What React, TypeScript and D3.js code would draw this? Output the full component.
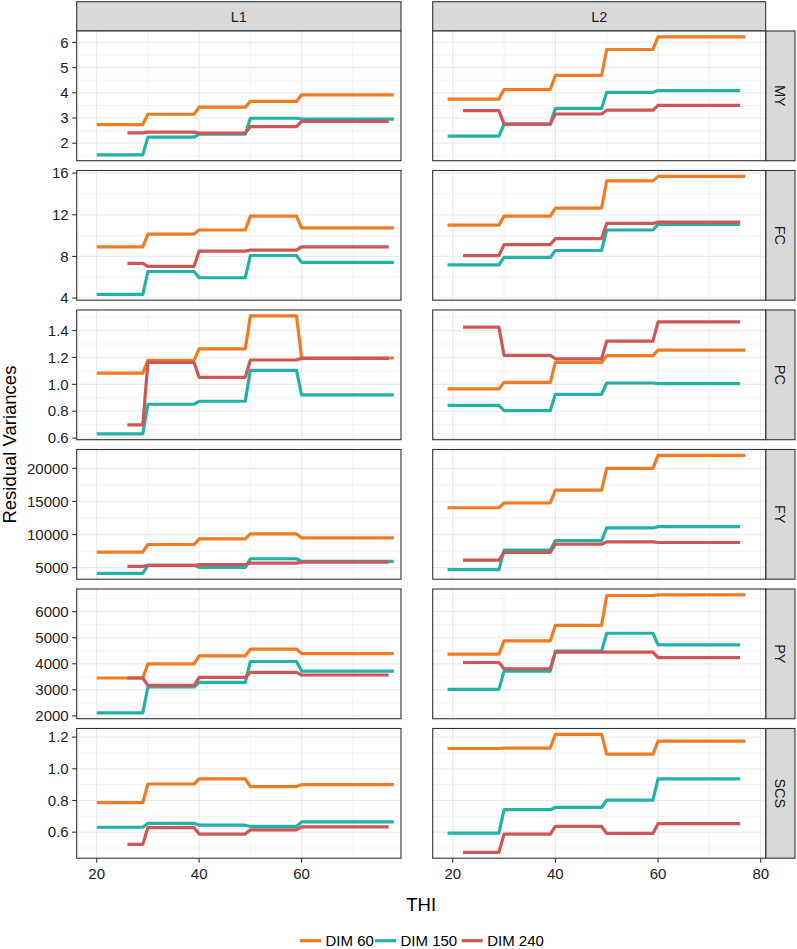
import React from "react";
import * as d3 from "d3";

// ---------- data ----------
const traits = ["MY", "FC", "PC", "FY", "PY", "SCS"];
const lactations = ["L1", "L2"];
const dimLabels = ["DIM 60", "DIM 150", "DIM 240"];
const dimColors = ["#EF7B23", "#22B2A8", "#CF5656"];

// THI class boundaries (each class is flat, transitions over one THI unit)
const classEdges = [29, 30, 39, 40, 49, 50, 59, 60];
const thiStartL1 = [20, 20, 26];
const thiEndL1 = [78, 78, 77];
const thiStartL2 = [19, 19, 22];
const thiEndL2 = [77, 76, 76];

// values per THI class (<30, 30-39, 40-49, 50-59, 60+), rows = DIM 60, 150, 240
const MY_L1 = [[2.74, 3.15, 3.43, 3.66, 3.92], [1.54, 2.24, 2.36, 2.99, 2.96], [2.41, 2.44, 2.40, 2.66, 2.87]];
const MY_L2 = [[3.75, 4.13, 4.69, 5.72, 6.22], [2.28, 2.76, 3.38, 4.02, 4.09], [3.29, 2.76, 3.16, 3.31, 3.5]];
const FC_L1 = [[8.92, 10.15, 10.54, 11.87, 10.75], [4.36, 6.55, 5.95, 8.09, 7.43], [7.34, 7.05, 8.51, 8.6, 8.92]];
const FC_L2 = [[11.01, 11.87, 12.65, 15.26, 15.69], [7.18, 7.9, 8.57, 10.54, 11.08], [8.07, 9.14, 9.71, 11.17, 11.3]];
const PC_L1 = [[1.084, 1.178, 1.264, 1.509, 1.196], [0.632, 0.852, 0.874, 1.104, 0.921], [0.699, 1.163, 1.052, 1.181, 1.193]];
const PC_L2 = [[0.966, 1.015, 1.163, 1.213, 1.255], [0.844, 0.805, 0.926, 1.01, 1.005], [1.425, 1.215, 1.19, 1.321, 1.464]];
const FY_L1 = [[7340, 8500, 9350, 10100, 9500], [4150, 5350, 5050, 6350, 5950], [5200, 5350, 5450, 5690, 5840]];
const FY_L2 = [[14050, 14760, 16710, 20000, 21950], [4700, 7640, 9100, 11000, 11200], [6140, 7300, 8545, 8900, 8800]];
const PY_L1 = [[3454, 4000, 4305, 4560, 4393], [2118, 3110, 3286, 4088, 3720], [3454, 3172, 3477, 3668, 3569]];
const PY_L2 = [[4370, 4878, 5477, 6622, 6645], [3019, 3720, 4485, 5172, 4725], [4050, 3809, 4447, 4447, 4240]];
const SCS_L1 = [[0.786, 0.904, 0.936, 0.888, 0.9], [0.631, 0.656, 0.644, 0.636, 0.665], [0.523, 0.629, 0.588, 0.615, 0.634]];
const SCS_L2 = [[1.128, 1.131, 1.217, 1.092, 1.175], [0.594, 0.742, 0.756, 0.802, 0.936], [0.473, 0.588, 0.636, 0.592, 0.654]];

const panelData = [
  [MY_L1, MY_L2],
  [FC_L1, FC_L2],
  [PC_L1, PC_L2],
  [FY_L1, FY_L2],
  [PY_L1, PY_L2],
  [SCS_L1, SCS_L2],
];

const yTicksMY = [2, 3, 4, 5, 6];
const yTicksFC = [4, 8, 12, 16];
const yTicksPC = [0.6, 0.8, 1.0, 1.2, 1.4];
const yTicksFY = [5000, 10000, 15000, 20000];
const yTicksPY = [2000, 3000, 4000, 5000, 6000];
const yTicksSCS = [0.6, 0.8, 1.0, 1.2];
const yTicks = [yTicksMY, yTicksFC, yTicksPC, yTicksFY, yTicksPY, yTicksSCS];
const yFormats = ["d", "d", ".1f", "d", "d", ".1f"];

const xTicksL1 = [20, 40, 60];
const xTicksL2 = [20, 40, 60, 80];
const xMinorL1 = [30, 50, 70];
const xMinorL2 = [30, 50, 70];

// ---------- layout ----------
const W = 797;
const H = 949;
const FONT = "'Liberation Sans', Arial, Helvetica, sans-serif";
const colX = [
  [76.7, 401],
  [432.7, 765.7],
];
const xDomains = [
  [16.1, 79.4],
  [16.1, 80.97],
];
const rowTop0 = 31;
const rowStep = 139.5;
const rowH = 129.7;
const stripTop = 1.7;
const rightStrip = [765.7, 795];
const borderCol = "#333333";
const gridCol = "#EBEBEB";

function seriesPoints(vals: number[], start: number, end: number) {
  const xs = [start, ...classEdges, end];
  const ys = [vals[0], vals[0], vals[1], vals[1], vals[2], vals[2], vals[3], vals[3], vals[4], vals[4]];
  return xs.map((x, i) => [x, ys[i]] as [number, number]);
}

export default function App() {
  const starts = [thiStartL1, thiStartL2];
  const ends = [thiEndL1, thiEndL2];
  const xTicks = [xTicksL1, xTicksL2];
  const xMinor = [xMinorL1, xMinorL2];
  const xScales = colX.map((r, c) => d3.scaleLinear().domain(xDomains[c]).range(r));

  const rows = traits.map((trait, r) => {
    const all = panelData[r].flat(2) as number[];
    const [mn, mx] = d3.extent(all) as [number, number];
    const pad = (mx - mn) * 0.05;
    const top = rowTop0 + r * rowStep;
    const y = d3.scaleLinear().domain([mn - pad, mx + pad]).range([top + rowH, top]);
    const ticks = yTicks[r];
    const step = ticks[1] - ticks[0];
    const minor: number[] = [];
    for (let i = -1; i < ticks.length; i++) {
      const v = ticks[0] + step * (i + 0.5);
      if (v > mn - pad && v < mx + pad) minor.push(v);
    }
    return { trait, top, y, ticks, minor, fmt: d3.format(yFormats[r]) };
  });

  const line = (xs: d3.ScaleLinear<number, number>, ys: d3.ScaleLinear<number, number>) =>
    d3
      .line<[number, number]>()
      .x((d) => xs(d[0]))
      .y((d) => ys(d[1]));

  const bottom = rows[rows.length - 1].top + rowH;
  const plotCenterX = (colX[0][0] + colX[1][1]) / 2;
  const plotCenterY = (rowTop0 + bottom) / 2;

  // legend layout
  const legendY = 940.7;
  const legendItems = [
    { x: 300, w: 47 },
    { x: 375, w: 56 },
    { x: 461.7, w: 56 },
  ];

  return (
    <svg
      width={W}
      height={H}
      style={{ position: "absolute", left: 0, top: 0, background: "#fff" }}
      fontFamily={FONT}
    >
      <rect x={0} y={0} width={W} height={H} fill="#fff" />
      {/* top strips */}
      {lactations.map((lac, c) => (
        <g key={lac}>
          <rect
            x={colX[c][0]}
            y={stripTop}
            width={colX[c][1] - colX[c][0]}
            height={rowTop0 - stripTop}
            fill="#D9D9D9"
            stroke={borderCol}
            strokeWidth={1.1}
          />
          <text
            x={(colX[c][0] + colX[c][1]) / 2}
            y={(stripTop + rowTop0) / 2 + 5.2}
            textAnchor="middle"
            fontSize={14.5}
            fill="#1A1A1A"
          >
            {lac}
          </text>
        </g>
      ))}
      {rows.map((row, r) => (
        <g key={row.trait}>
          {/* right strip */}
          <rect
            x={rightStrip[0]}
            y={row.top}
            width={rightStrip[1] - rightStrip[0]}
            height={rowH}
            fill="#D9D9D9"
            stroke={borderCol}
            strokeWidth={1.1}
          />
          <text
            transform={`translate(${(rightStrip[0] + rightStrip[1]) / 2 - 5.2},${row.top + rowH / 2}) rotate(90)`}
            textAnchor="middle"
            fontSize={14.5}
            fill="#1A1A1A"
          >
            {row.trait}
          </text>
          {lactations.map((lac, c) => {
            const xs = xScales[c];
            const [x0, x1] = colX[c];
            const lg = line(xs, row.y);
            return (
              <g key={lac}>
                <rect x={x0} y={row.top} width={x1 - x0} height={rowH} fill="#fff" />
                {row.minor.map((v) => (
                  <line key={"ym" + v} x1={x0} x2={x1} y1={row.y(v)} y2={row.y(v)} stroke={gridCol} strokeWidth={0.6} />
                ))}
                {xMinor[c].map((v) => (
                  <line key={"xm" + v} x1={xs(v)} x2={xs(v)} y1={row.top} y2={row.top + rowH} stroke={gridCol} strokeWidth={0.6} />
                ))}
                {row.ticks.map((v) => (
                  <line key={"yg" + v} x1={x0} x2={x1} y1={row.y(v)} y2={row.y(v)} stroke={gridCol} strokeWidth={1.2} />
                ))}
                {xTicks[c].map((v) => (
                  <line key={"xg" + v} x1={xs(v)} x2={xs(v)} y1={row.top} y2={row.top + rowH} stroke={gridCol} strokeWidth={1.2} />
                ))}
                {panelData[r][c].map((vals, k) => (
                  <path
                    key={k}
                    d={lg(seriesPoints(vals, starts[c][k], ends[c][k])) || ""}
                    fill="none"
                    stroke={dimColors[k]}
                    strokeWidth={3.2}
                    strokeLinejoin="round"
                  />
                ))}
                <rect x={x0} y={row.top} width={x1 - x0} height={rowH} fill="none" stroke={borderCol} strokeWidth={1.1} />
              </g>
            );
          })}
          {/* y axis (left column only) */}
          {row.ticks.map((v) => (
            <g key={"yt" + v}>
              <line x1={colX[0][0] - 4.5} x2={colX[0][0]} y1={row.y(v)} y2={row.y(v)} stroke={borderCol} strokeWidth={1.1} />
              <text x={colX[0][0] - 8} y={row.y(v) + 5.2} textAnchor="end" fontSize={15} fill="#222">
                {row.fmt(v)}
              </text>
            </g>
          ))}
        </g>
      ))}
      {/* x axes */}
      {lactations.map((lac, c) => (
        <g key={"xa" + lac}>
          {xTicks[c].map((v) => (
            <g key={v}>
              <line x1={xScales[c](v)} x2={xScales[c](v)} y1={bottom} y2={bottom + 4.5} stroke={borderCol} strokeWidth={1.1} />
              <text x={xScales[c](v)} y={bottom + 20.5} textAnchor="middle" fontSize={15} fill="#222">
                {v}
              </text>
            </g>
          ))}
        </g>
      ))}
      {/* axis titles */}
      <text x={plotCenterX} y={910.5} textAnchor="middle" fontSize={18.5} fill="#000">
        THI
      </text>
      <text transform={`translate(15.5,${plotCenterY}) rotate(-90)`} textAnchor="middle" fontSize={18.5} fill="#000">
        Residual Variances
      </text>
      {/* legend */}
      {dimLabels.map((lab, k) => (
        <g key={lab}>
          <line
            x1={legendItems[k].x}
            x2={legendItems[k].x + 21}
            y1={legendY}
            y2={legendY}
            stroke={dimColors[k]}
            strokeWidth={3.2}
          />
          <text x={legendItems[k].x + 25.5} y={legendY + 5.3} fontSize={15} fill="#000">
            {lab}
          </text>
        </g>
      ))}
    </svg>
  );
}
